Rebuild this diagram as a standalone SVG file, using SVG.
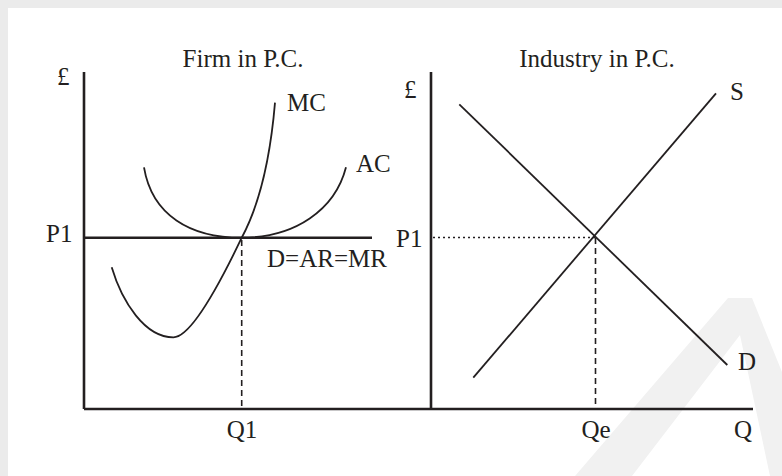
<svg xmlns="http://www.w3.org/2000/svg" width="782" height="476" viewBox="0 0 782 476">
<style>
text{font-family:"Liberation Serif","Times New Roman",serif;font-size:25px;fill:#231f20}
.axis{stroke:#231f20;stroke-width:2.6;fill:none}
.curve{stroke:#231f20;stroke-width:1.8;fill:none}
.dash{stroke:#231f20;stroke-width:1.6;stroke-dasharray:6,4;fill:none}
.dot{stroke:#231f20;stroke-width:1.4;stroke-dasharray:2,3;fill:none}
</style>
<rect x="0" y="0" width="782" height="476" fill="#ebebeb"/>
<rect x="8" y="8" width="774" height="468" fill="#ffffff"/>
<g id="watermark" fill="#f1f1f1">
<polygon points="575,476 728,298 752,298 782,372 782,476 770,476 740,335 632,476"/>
</g>
<g id="titles">
<text x="243" y="67" text-anchor="middle">Firm in P.C.</text>
<text x="597" y="67" text-anchor="middle">Industry in P.C.</text>
</g>
<g id="firm-axes">
<line class="axis" x1="84" y1="72" x2="84" y2="409"/>
<line class="axis" x1="84" y1="409" x2="753" y2="409"/>
<text x="57" y="85">£</text>
<text x="46" y="242">P1</text>
<text x="242" y="438" text-anchor="middle">Q1</text>
</g>
<g id="industry-axes">
<line class="axis" x1="431" y1="72" x2="431" y2="409"/>
<text x="404" y="98">£</text>
<text x="396" y="247">P1</text>
<text x="596" y="438" text-anchor="middle">Qe</text>
<text x="734" y="438">Q</text>
</g>
<g id="mc">
<path class="curve" d="M111.7,267.3 C122,302 145,337.3 173.3,337.3 C188,337.5 212,300 241.7,237.7 C262,200 271,150 275,102.7"/>
<text x="287" y="111">MC</text>
</g>
<g id="ac">
<path class="curve" d="M144,167.3 C152,215 190,237.7 241.7,237.7 C295,237.7 335,210 346,167.3"/>
<text x="356" y="172">AC</text>
</g>
<g id="demand-firm">
<line class="axis" x1="84" y1="237.7" x2="372" y2="237.7"/>
<text x="267" y="267">D=AR=MR</text>
</g>
<g id="supply">
<line class="curve" x1="473.3" y1="377.7" x2="716" y2="93.3"/>
<text x="730" y="100">S</text>
</g>
<g id="demand">
<line class="curve" x1="459.3" y1="104.3" x2="727.3" y2="365"/>
<text x="738" y="370">D</text>
</g>
<g id="connectors">
<line class="dash" x1="241.7" y1="240" x2="241.7" y2="408"/>
<line class="dash" x1="595.5" y1="238" x2="595.5" y2="408"/>
<line class="dot" x1="433" y1="237.5" x2="595" y2="237.5"/>
</g>
</svg>
